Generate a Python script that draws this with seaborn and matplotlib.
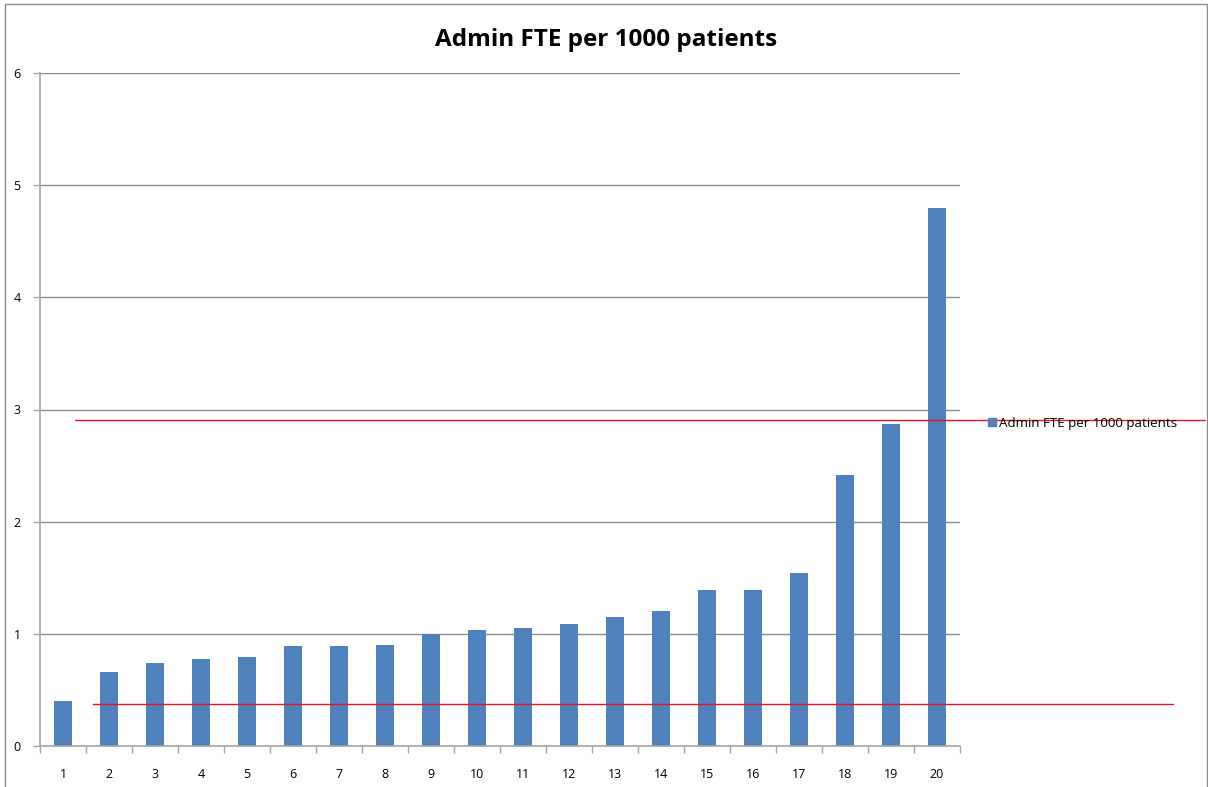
import matplotlib
matplotlib.use("Agg")
import matplotlib.pyplot as plt
import seaborn as sns
import pandas as pd
from matplotlib.patches import Rectangle

categories = [str(i) for i in range(1, 21)]
values = [0.40, 0.66, 0.74, 0.78, 0.79, 0.89, 0.89, 0.90, 1.00, 1.03,
          1.05, 1.09, 1.15, 1.20, 1.39, 1.39, 1.54, 2.42, 2.87, 4.80]
series_name = "Admin FTE per 1000 patients"
ref_lines = [2.91, 0.374]
yticks = [0, 1, 2, 3, 4, 5, 6]

sns.set_theme(style="white")
plt.rcParams['font.family'] = ['Open Sans', 'DejaVu Sans']
plt.rcParams['text.color'] = 'black'
plt.rcParams['xtick.color'] = 'black'
plt.rcParams['ytick.color'] = 'black'

df = pd.DataFrame({"cat": categories, "val": values})

fig = plt.figure(figsize=(12.08, 7.87), dpi=100)
ax = fig.add_axes([40/1208, 1-746/787, 920/1208, 673/787])

sns.barplot(data=df, x="cat", y="val", ax=ax, color="#4F81BD", width=0.41,
            saturation=1, edgecolor="none", order=categories)

ax.set_ylim(0, 6)
ax.set_xlim(-0.5, 19.5)
ax.set_yticks(yticks)
ax.set_yticklabels([str(t) for t in yticks], fontsize=9, color="black")
ax.set_xlabel("")
ax.set_ylabel("")
ax.set_xticks(range(20))
ax.set_xticklabels(categories, fontsize=9, color="black")
ax.set_xticks([i - 0.5 for i in range(21)], minor=True)
ax.tick_params(axis="x", which="major", length=0, pad=16)
ax.tick_params(axis="x", which="minor", length=5, color="#A6A6A6", width=1, bottom=True)
ax.tick_params(axis="y", which="major", length=5, color="#A6A6A6", width=1, left=True, pad=9)

ax.yaxis.grid(True, color="#8C8C8C", linewidth=1)
ax.set_axisbelow(True)
for s in ["top", "right"]:
    ax.spines[s].set_visible(False)
for s in ["left", "bottom"]:
    ax.spines[s].set_color("#A6A6A6")
    ax.spines[s].set_linewidth(1.2)

# reference lines extend beyond axes
ax.axhline(ref_lines[0], xmin=(75-40)/920, xmax=(1205-40)/920, color="#E8141E",
           linewidth=1, clip_on=False, zorder=5)
ax.axhline(ref_lines[1], xmin=(93-40)/920, xmax=(1173-40)/920, color="#E8141E",
           linewidth=1, clip_on=False, zorder=5)

fig.text(606/1208, 1-40/787, series_name, fontsize=17.5, fontweight="bold",
         ha="center", va="center", color="black")

leg = fig.legend(handles=[Rectangle((0, 0), 1, 1, color="#4F81BD")], labels=[series_name],
                 loc="center left", bbox_to_anchor=(976/1208, 1-423/787), frameon=False,
                 fontsize=9.6, handlelength=0.6, handleheight=0.6, handletextpad=0.25)

fig.patches.append(Rectangle((5/1208, -0.01), 1202/1208, 1-4/787+0.01, transform=fig.transFigure,
                             fill=False, edgecolor="#8C8C8C", linewidth=1))

fig.savefig("out.png", dpi=100)
